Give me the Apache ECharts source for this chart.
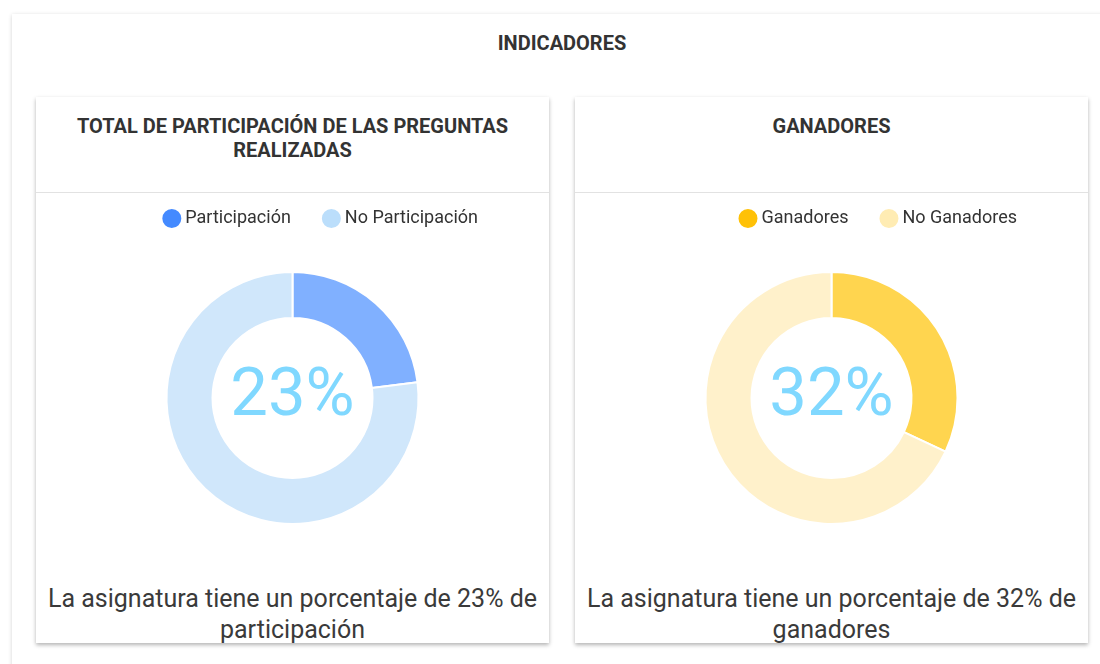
<!DOCTYPE html>
<html>
<head>
<meta charset="utf-8">
<title>Indicadores</title>
<script src="https://cdn.jsdelivr.net/npm/echarts@6.0.0/dist/echarts.min.js"></script>
<style>
  html, body { margin: 0; padding: 0; background: #fff; font-family: Roboto, sans-serif; overflow: hidden; }
  .outer { position: absolute; left: 12px; top: 14px; width: 1100px; height: 700px; background: #fff;
           box-shadow: 0 1px 4px rgba(0,0,0,0.18); }
  .outer h1 { margin: 0; position: absolute; top: 17px; left: 0; width: 1100px; text-align: center;
              font-size: 20px; font-weight: bold; color: #333; line-height: 24px; }
  .card { position: absolute; top: 97px; width: 513px; height: 546px; background: #fff;
          box-shadow: 0 2px 4px rgba(0,0,0,0.3); }
  .card .head { height: 96px; border-bottom: 1px solid #e2e2e2; box-sizing: border-box; padding: 17px 20px 0;
                text-align: center; font-weight: bold; font-size: 20px; line-height: 24px; color: #333; }
  .card .chart { position: absolute; top: 97px; left: 0; width: 513px; height: 380px; }
  .card .foot { position: absolute; top: 486px; left: 0; right: 0; padding: 0 6px; text-align: center;
                font-size: 25px; line-height: 31px; color: #3a3a3a; }
</style>
</head>
<body>
<div class="outer">
  <h1>INDICADORES</h1>
</div>
<div class="card" style="left:36px">
  <div class="head" id="head0"></div>
  <div class="chart" id="chart0"></div>
  <div class="foot" id="foot0"></div>
</div>
<div class="card" style="left:575px">
  <div class="head" id="head1"></div>
  <div class="chart" id="chart1"></div>
  <div class="foot" id="foot1"></div>
</div>
<script>
// datos de los indicadores
const cardTitles = ['TOTAL DE PARTICIPACIÓN DE LAS PREGUNTAS REALIZADAS', 'GANADORES']
const footWords = ['participación', 'ganadores']
const participacionLabels = ['Participación', 'No Participación']
const participacionValues = [23, 77]
const ganadoresLabels = ['Ganadores', 'No Ganadores']
const ganadoresValues = [32, 68]

// color de leyenda / color del sector
const participacionColors = ['#448aff', '#bbdefb']
const participacionSlices = ['#80b0ff', '#d0e7fb']
const ganadoresColors = ['#ffc107', '#ffecb3']
const ganadoresSlices = ['#ffd54f', '#fff1cb']

function initChart(index, labels, values, legendColors, sliceColors) {
  document.getElementById('head' + index).textContent = cardTitles[index]
  const chart = echarts.init(document.getElementById('chart' + index))
  const total = values.reduce(function(a, b) { return a + b }, 0)
  const pct = Math.round(values[0] / total * 100)
  document.getElementById('foot' + index).textContent =
    'La asignatura tiene un porcentaje de ' + pct + '% de ' + footWords[index]

  const legendData = []
  const seriesData = []
  labels.forEach(function(name, i) {
    legendData.push({ name: name, itemStyle: { color: legendColors[i] } })
    seriesData.push({
      name: name,
      value: values[i],
      itemStyle: { color: sliceColors[i] },
      label: { show: i === 0 }
    })
  })

  chart.setOption({
    animation: false,
    legend: {
      top: 8,
      right: 66,
      icon: 'circle',
      itemWidth: 21,
      itemHeight: 21,
      itemGap: 29,
      textStyle: {
        color: '#333',
        fontSize: 18,
        fontFamily: 'Roboto',
        padding: [0, 0, 0, -2]
      },
      data: legendData
    },
    series: [{
      type: 'pie',
      radius: [80, 126],
      center: ['50%', 204],
      startAngle: 90,
      clockwise: true,
      silent: true,
      itemStyle: {
        borderColor: '#fff',
        borderWidth: 2
      },
      label: {
        show: false,
        position: 'center',
        formatter: function(p) { return Math.round(p.percent) + '%' },
        color: '#80d8ff',
        fontSize: 67,
        fontFamily: 'Roboto',
        padding: [6, 0, 0, 0]
      },
      labelLine: { show: false },
      data: seriesData
    }]
  })
}

initChart(0, participacionLabels, participacionValues, participacionColors, participacionSlices)
initChart(1, ganadoresLabels, ganadoresValues, ganadoresColors, ganadoresSlices)
</script>
</body>
</html>
